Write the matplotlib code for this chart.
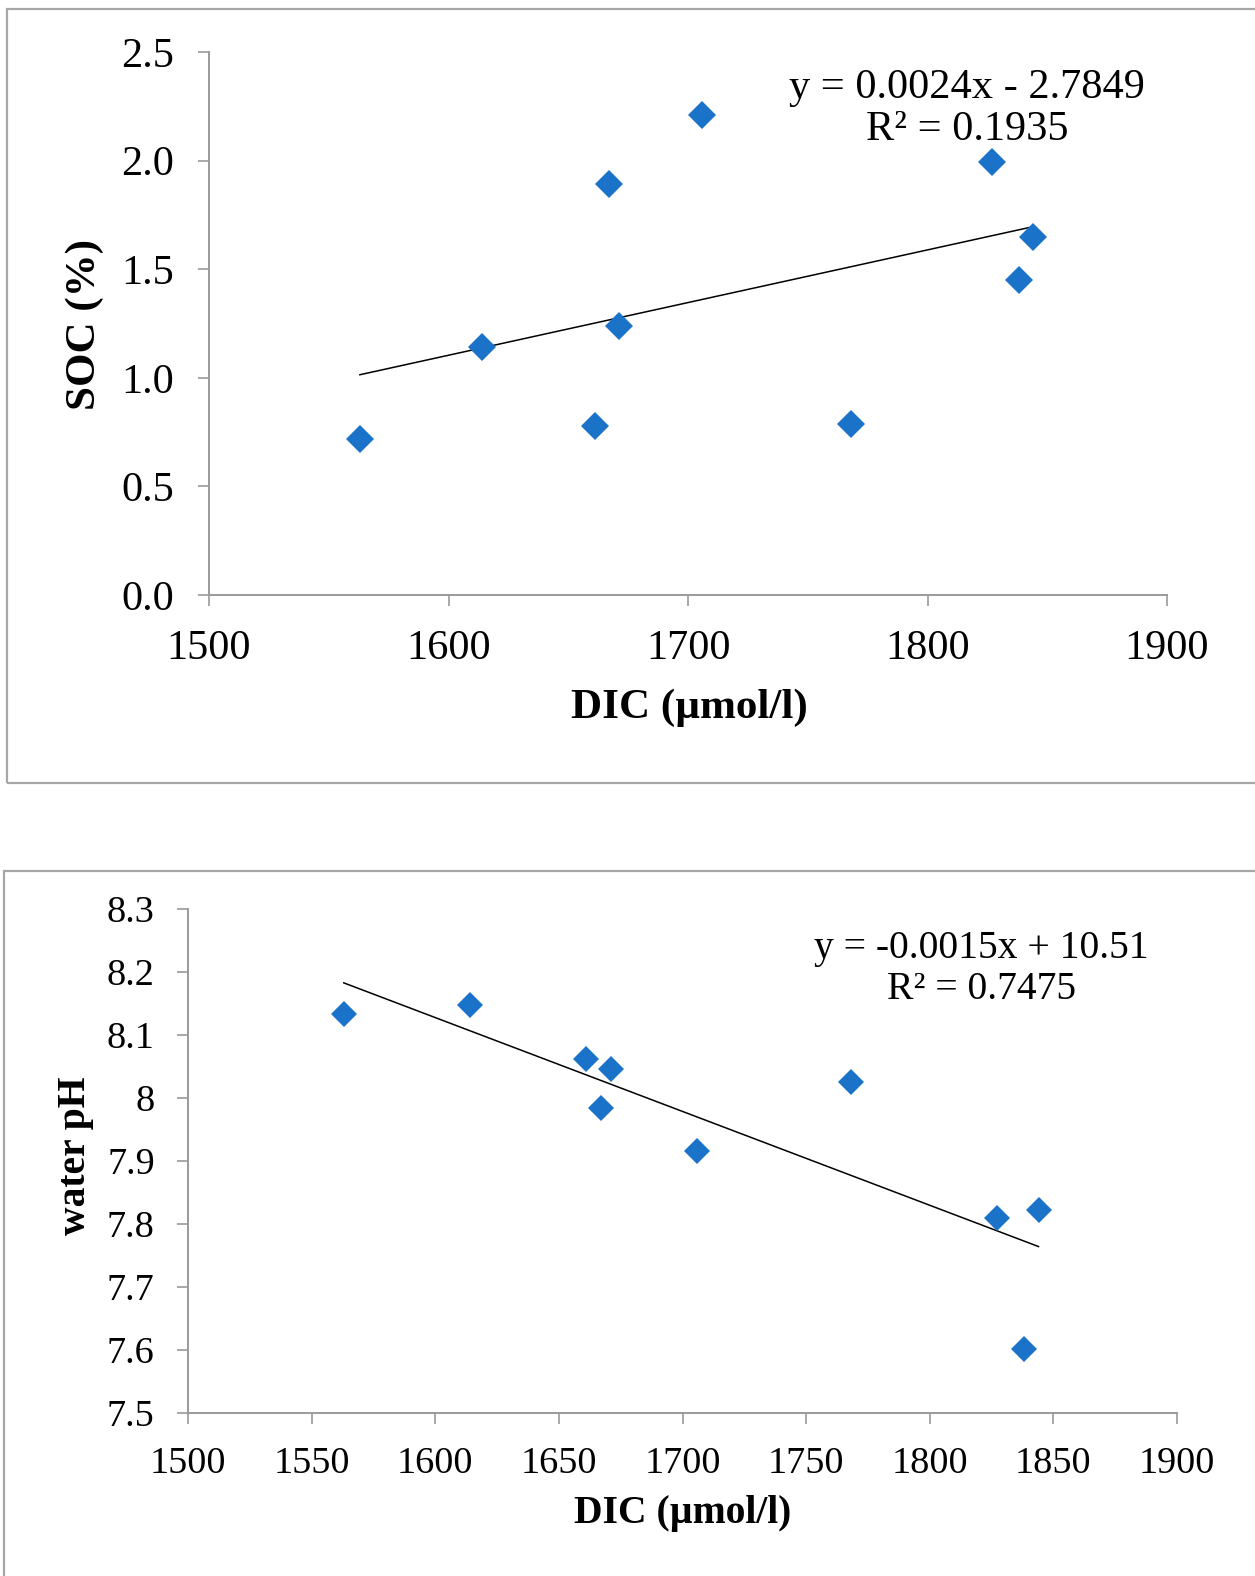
import numpy as np
import matplotlib
matplotlib.use("Agg")
import matplotlib.pyplot as plt
from matplotlib.patches import Rectangle

# data
dic = [1563, 1614, 1661, 1667, 1671, 1706, 1768, 1827, 1838, 1844]
dic_ph = [1563, 1614, 1661, 1667, 1671, 1706, 1768, 1827, 1838, 1844]
soc = [0.716, 1.141, 0.776, 1.890, 1.238, 2.209, 0.786, 1.992, 1.451, 1.650]
ph = [8.134, 8.148, 8.062, 7.984, 8.046, 7.916, 8.026, 7.810, 7.602, 7.822]

soc_ticks = [0.0, 0.5, 1.0, 1.5, 2.0, 2.5]
soc_xticks = [1500, 1600, 1700, 1800, 1900]
ph_ticks = [7.5, 7.6, 7.7, 7.8, 7.9, 8.0, 8.1, 8.2, 8.3]
ph_tick_labels = ["7.5", "7.6", "7.7", "7.8", "7.9", "8", "8.1", "8.2", "8.3"]
ph_xticks = [1500, 1550, 1600, 1650, 1700, 1750, 1800, 1850, 1900]

eq_top = "y = 0.0024x - 2.7849\nR² = 0.1935"
eq_bot = "y = -0.0015x + 10.51\nR² = 0.7475"

plt.rcParams["font.family"] = ["Liberation Serif", "DejaVu Serif"]

W, H = 1255, 1576
fig = plt.figure(figsize=(W / 100, H / 100), dpi=100)

def px_axes(left, top, right, bottom):
    return fig.add_axes([left / W, 1 - bottom / H, (right - left) / W, (bottom - top) / H])

def border(x0, y0, x1, y1):
    fig.add_artist(Rectangle((x0 / W, 1 - y1 / H), (x1 - x0) / W, (y1 - y0) / H,
                             transform=fig.transFigure, fill=False,
                             edgecolor="#a6a6a6", linewidth=1.6))

border(7, 9, 1275, 783)
border(4, 871, 1275, 1600)

blue = "#1a73c9"
spine_col = "#9a9a9a"

def style(ax, fs, pad):
    for s in ["top", "right"]:
        ax.spines[s].set_visible(False)
    for s in ["left", "bottom"]:
        ax.spines[s].set_color(spine_col)
        ax.spines[s].set_linewidth(1.4)
    ax.tick_params(axis="both", direction="out", length=8, width=1.2,
                   color=spine_col, labelsize=fs, pad=pad)

# top panel: SOC vs DIC
ax1 = px_axes(209, 52, 1167, 595)
ax1.plot(dic, soc, linestyle="none", marker="D", markersize=14, color=blue,
         markeredgewidth=0, zorder=3, clip_on=False)
k, b = np.polyfit(dic, soc, 1)
xx = np.array([min(dic), max(dic)])
ax1.plot(xx, k * xx + b, color="black", linewidth=1.1, zorder=2)
ax1.set_xlim(1500, 1900)
ax1.set_ylim(0, 2.5)
ax1.set_xticks(soc_xticks)
ax1.set_yticks(soc_ticks)
ax1.set_yticklabels([f"{t:.1f}" for t in soc_ticks])
style(ax1, 30.5, 17)
ax1.text(0.791, 0.896, eq_top, transform=ax1.transAxes, ha="center", va="center",
         fontsize=30.5, linespacing=1.12)
fig.text(689 / W, 1 - 708 / H, "DIC (µmol/l)", ha="center", va="center",
         fontsize=31, fontweight="bold")
fig.text(85 / W, 1 - 324 / H, "SOC (%)", ha="center", va="center",
         fontsize=31, fontweight="bold", rotation=90)

# bottom panel: water pH vs DIC
ax2 = px_axes(188, 909, 1177, 1413)
ax2.plot(dic_ph, ph, linestyle="none", marker="D", markersize=13, color=blue,
         markeredgewidth=0, zorder=3, clip_on=False)
k2, b2 = np.polyfit(dic_ph, ph, 1)
xx2 = np.array([min(dic_ph), max(dic_ph)])
ax2.plot(xx2, k2 * xx2 + b2, color="black", linewidth=1.1, zorder=2)
ax2.set_xlim(1500, 1900)
ax2.set_ylim(7.5, 8.3)
ax2.set_xticks(ph_xticks)
ax2.set_yticks(ph_ticks)
ax2.set_yticklabels(ph_tick_labels)
style(ax2, 27.5, 16)
ax2.text(0.802, 0.881, eq_bot, transform=ax2.transAxes, ha="center", va="center",
         fontsize=28.5, linespacing=1.12)
fig.text(683 / W, 1 - 1514 / H, "DIC (µmol/l)", ha="center", va="center",
         fontsize=28.5, fontweight="bold")
fig.text(76 / W, 1 - 1156 / H, "water pH", ha="center", va="center",
         fontsize=28.5, fontweight="bold", rotation=90)

fig.savefig("out.png", dpi=100)
